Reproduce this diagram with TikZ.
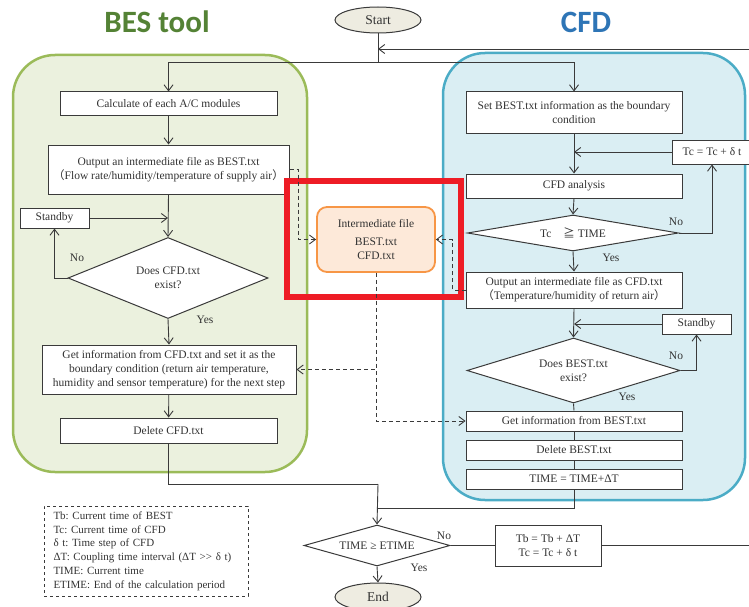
\documentclass[tikz,border=0pt]{standalone}
\usepackage{fontspec}
\setmainfont{Liberation Serif}
\newfontfamily\titlefont{Carlito}
\newfontfamily\cjk{Noto Sans CJK SC}
\usetikzlibrary{arrows.meta,shapes.geometric}
\frenchspacing

\definecolor{linec}{HTML}{3A3A3A}
\definecolor{textc}{HTML}{333333}
\definecolor{besgreen}{HTML}{548235}
\definecolor{cfdblue}{HTML}{2E75B6}
\definecolor{besborder}{HTML}{9BBB59}
\definecolor{besfill}{HTML}{EBF1DE}
\definecolor{cfdborder}{HTML}{4BACC6}
\definecolor{cfdfill}{HTML}{DAEEF3}
\definecolor{hilite}{HTML}{EE1C25}
\definecolor{fileborder}{HTML}{F79646}
\definecolor{filefill}{HTML}{FDE9D9}
\definecolor{termfill}{HTML}{EEECE1}

\newcommand{\lp}{{\cjk （}}
\newcommand{\rp}{{\cjk ）}}

\tikzset{
  every node/.style={font=\fontsize{11.5}{13.7}\selectfont, text=textc},
  stepbox/.style={draw=linec, line width=1pt, fill=white, align=center,
    inner sep=0pt},
  decision/.style={diamond, draw=linec, line width=1pt, fill=white,
    align=center, inner sep=0pt},
  terminal/.style={ellipse, draw=linec, line width=1pt, fill=termfill,
    inner sep=0pt, font=\fontsize{13.5}{15}\selectfont},
  filebox/.style={draw=fileborder, line width=1.8pt, fill=filefill,
    rounded corners=10pt, align=center, inner sep=0pt},
  legendbox/.style={draw=linec, dashed, line width=0.8pt, align=left,
    inner xsep=9.5pt, inner ysep=4pt, font=\fontsize{11}{13.8}\selectfont},
  flow/.style={draw=linec, line width=0.9pt},
  arr/.style={flow, -{Straight Barb[length=6pt,width=9pt]}},
  darr/.style={flow, dash pattern=on 4pt off 3pt,
    -{Straight Barb[length=6pt,width=9pt]}},
  lbl/.style={font=\fontsize{11.5}{13}\selectfont},
  title/.style={font=\titlefont\bfseries\fontsize{31}{35}\selectfont},
}

\begin{document}
\begin{tikzpicture}[x=1pt, y=-1pt]
\useasboundingbox (0,0) rectangle (749,607);

% tool containers
\draw[draw=besborder, fill=besfill, line width=2.5pt, rounded corners=42pt]
  (13,55) rectangle (307,472);
\draw[draw=cfdborder, fill=cfdfill, line width=2.5pt, rounded corners=42pt]
  (443,53) rectangle (745,500);

% titles
\node[title, text=besgreen] (bestitle) at (157,22) {BES tool};
\node[title, text=cfdblue] (cfdtitle) at (586,22) {CFD};

% terminals
\node[terminal, minimum width=86pt, minimum height=26pt] (start) at (378,20) {Start};
\node[terminal, minimum width=86pt, minimum height=28pt] (endn) at (378,597) {End};

% BES side
\node[stepbox, minimum width=217pt, minimum height=24pt] (calc) at (168.5,104)
  {Calculate of each A/C modules};
\node[stepbox, minimum width=241pt, minimum height=49pt] (outbest) at (168.5,169.5)
  {Output an intermediate file as BEST.txt\\\lp Flow rate/humidity/temperature of supply air\rp};
\node[stepbox, minimum width=69pt, minimum height=20pt] (standbyL) at (54.5,218) {Standby};
\node[decision, aspect=2.5, minimum width=200pt, minimum height=81pt] (dcfd) at (168,278)
  {Does CFD.txt\\exist?};
\node[stepbox, minimum width=254pt, minimum height=49pt] (getcfd) at (169,369.5)
  {Get information from CFD.txt and set it as the\\boundary condition (return air temperature,\\humidity and sensor temperature) for the next step};
\node[stepbox, minimum width=217pt, minimum height=25pt] (delcfd) at (168.5,430.5)
  {Delete CFD.txt};

% CFD side
\node[stepbox, minimum width=216pt, minimum height=41pt] (setbest) at (574,112.5)
  {Set BEST.txt information as the boundary\\condition};
\node[stepbox, minimum width=80pt, minimum height=24pt] (tcinc) at (712,152)
  {Tc = Tc + δ t};
\node[stepbox, minimum width=216pt, minimum height=24pt] (cfdan) at (574,186)
  {CFD analysis};
\node[decision, aspect=5.9, minimum width=211pt, minimum height=36pt] (dtc) at (573,233)
  {Tc\hspace{12pt}{\cjk ≧} TIME};
\node[stepbox, minimum width=216pt, minimum height=36pt] (outcfd) at (574,290)
  {Output an intermediate file as CFD.txt\\\lp Temperature/humidity of return air\rp};
\node[stepbox, minimum width=69pt, minimum height=20pt] (standbyR) at (696.5,324) {Standby};
\node[decision, aspect=3.3, minimum width=213pt, minimum height=65pt] (dbest) at (573.5,370.5)
  {Does BEST.txt\\exist?};
\node[stepbox, minimum width=216pt, minimum height=20pt] (getbest) at (574,421)
  {Get information from BEST.txt};
\node[stepbox, minimum width=216pt, minimum height=20pt] (delbest) at (574,450)
  {Delete BEST.txt};
\node[stepbox, minimum width=216pt, minimum height=20pt] (timeinc) at (574,479)
  {TIME = TIME+ΔT};

% exchange file
\node[filebox, minimum width=118pt, minimum height=65pt] (inter) at (376,239.5)
  {Intermediate file\\[5pt]BEST.txt\\CFD.txt};
\draw[draw=hilite, line width=6pt] (287,181) rectangle (461,297);

% end test
\node[decision, aspect=3.6, minimum width=146pt, minimum height=41pt] (detime) at (377,545.5)
  {TIME ≥ ETIME};
\node[stepbox, minimum width=106pt, minimum height=41pt] (tbinc) at (548,545.5)
  {Tb = Tb + ΔT\\Tc = Tc + δ t};

% legend
\node[legendbox, minimum width=204pt, minimum height=90pt, text width=185pt] (legend) at (146,551)
  {Tb: Current time of BEST\\Tc: Current time of CFD\\δ t: Time step of CFD\\ΔT: Coupling time interval (ΔT >{}> δ t)\\TIME: Current time\\ETIME: End of the calculation period};

% junction points
\coordinate (split) at (378,62);
\coordinate (loopin) at (378,49);
\coordinate (jb) at (378,484);
\coordinate (jc) at (378,508);

% main flow
\draw[flow] (start.south) -- (split);
\draw[arr] (split) -| (calc.north);
\draw[arr] (split) -| (setbest.north);
\draw[arr] (tbinc.east) -- (770,545.5) |- (loopin);

\draw[arr] (calc) -- (outbest);
\draw[arr] (outbest.south) -- (dcfd.north);
\draw[arr] (standbyL.east) -- (standbyL.east -| dcfd.north);
\draw[arr] (dcfd.west) -| (standbyL.south);
\draw[arr] (dcfd.south) -- (getcfd.north);
\draw[arr] (getcfd) -- (delcfd);
\draw[flow] (delcfd.south) |- (jb);
\draw[arr] (jb) -- (detime.north);
\draw[arr] (detime.south) -- (endn.north);
\draw[flow] (detime.east) -- (tbinc.west);

\draw[arr] (setbest.south) -- (cfdan.north);
\draw[arr] (tcinc.west) -- (tcinc.west -| setbest.south);
\draw[arr] (cfdan.south) -- (dtc.north);
\draw[arr] (dtc.east) -| (tcinc.south);
\draw[arr] (dtc.south) -- (outcfd.north);
\draw[arr] (outcfd.south) -- (dbest.north);
\draw[arr] (standbyR.west) -- (standbyR.west -| outcfd.south);
\draw[arr] (dbest.east) -| (standbyR.south);
\draw[flow] (dbest.south) -- (getbest.north);
\draw[flow] (getbest) -- (delbest);
\draw[flow] (delbest) -- (timeinc);
\draw[flow] (timeinc.south) |- (jc);

% file exchange
\draw[darr] (outbest.east) -- ++(9,0) |- (inter.west);
\draw[darr] (outcfd.west) -- ++(-13,0) |- (inter.east);
\draw[darr] (inter.south) |- (getcfd.east);
\draw[darr] (inter.south) |- (getbest.west);

% branch labels
\node[lbl] (nol) at (77,258) {No};
\node[lbl] (yesl) at (205,320) {Yes};
\node[lbl] (notc) at (676,222) {No};
\node[lbl] (yestc) at (611,258) {Yes};
\node[lbl] (nob) at (676,356) {No};
\node[lbl] (yesb) at (627,397) {Yes};
\node[lbl] (noe) at (444,536) {No};
\node[lbl] (yese) at (419,568) {Yes};
\end{tikzpicture}
\end{document}
